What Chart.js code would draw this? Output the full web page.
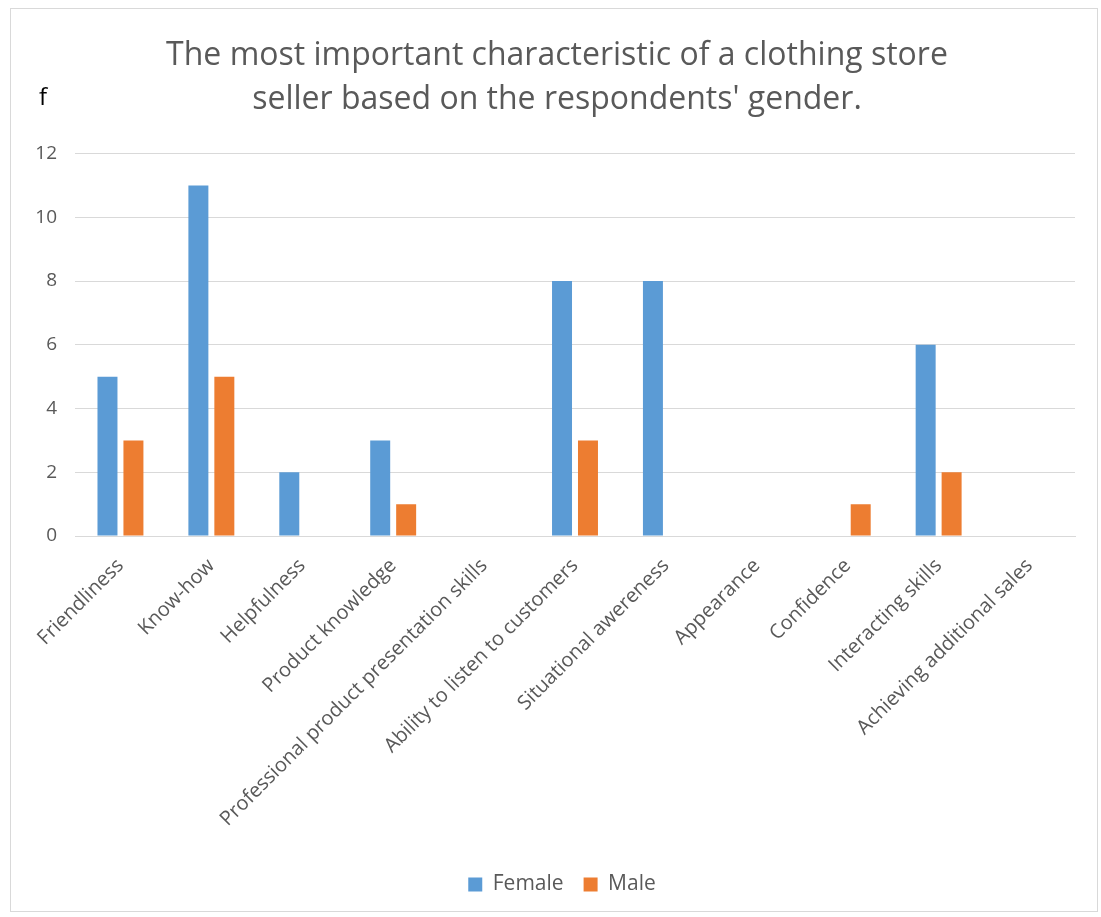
<!DOCTYPE html>
<html>
<head>
<meta charset="utf-8">
<script src="https://cdn.jsdelivr.net/npm/chart.js@4.4.1/dist/chart.umd.min.js"></script>
<style>
  html, body { margin: 0; padding: 0; background: #ffffff; }
  #box { position: absolute; left: 10px; top: 8px; width: 1088px; height: 904px; border: 1px solid #d9d9d9; box-sizing: border-box; }
  #c { display: block; }
</style>
</head>
<body>
<div id="box"><canvas id="c" width="1086" height="902"></canvas></div>
<script>
const categories = [
  "Friendliness", "Know-how", "Helpfulness", "Product knowledge",
  "Professional product presentation skills", "Ability to listen to customers",
  "Situational awereness", "Appearance", "Confidence", "Interacting skills",
  "Achieving additional sales"
];
const femaleValues = [5, 11, 2, 3, 0, 8, 8, 0, 0, 6, 0];
const maleValues   = [3, 5, 0, 1, 0, 3, 0, 0, 1, 2, 0];
const yTicks = [0, 2, 4, 6, 8, 10, 12];
const titleLines = ["The most important characteristic of a clothing store", "seller based on the respondents' gender."];
const yAxisLabel = "f";

const FONT = "'Open Sans', 'DejaVu Sans', sans-serif";
const GREY = "#595959";

const yLabelPlugin = {
  id: 'yLabel',
  afterLayout(chart) {
    const t = chart.titleBlock;
    if (t) { t.left += 14; t.right += 14; }
    const l = chart.legend;
    if (l) { l.left += 19; l.right += 19; }
  },
  afterDraw(chart) {
    const ctx = chart.ctx;
    ctx.save();
    ctx.fillStyle = "#000000";
    ctx.font = "24px " + FONT;
    ctx.textAlign = "center";
    ctx.textBaseline = "middle";
    ctx.fillText(yAxisLabel, 32, 89);
    ctx.restore();
  }
};

new Chart(document.getElementById('c'), {
  type: 'bar',
  data: {
    labels: categories,
    datasets: [
      { label: "Female", data: femaleValues, backgroundColor: "#5B9BD5", borderWidth: 0 },
      { label: "Male", data: maleValues, backgroundColor: "#ED7D31", borderWidth: 0 }
    ]
  },
  options: {
    responsive: false,
    animation: false,
    devicePixelRatio: 1,
    categoryPercentage: 0.571,
    barPercentage: 0.77,
    layout: { padding: { left: 0, right: 22, top: 0, bottom: 6 } },
    plugins: {
      title: {
        display: true,
        text: titleLines,
        color: GREY,
        font: { family: FONT, size: 32, weight: 'normal', lineHeight: 1.4 },
        padding: { top: 24, bottom: 31 }
      },
      legend: {
        position: 'bottom',
        labels: {
          color: GREY,
          font: { family: FONT, size: 21 },
          boxWidth: 14, boxHeight: 14,
          padding: 20
        }
      },
      tooltip: { enabled: false }
    },
    scales: {
      x: {
        grid: { display: false, drawTicks: false },
        border: { display: true, color: "#d9d9d9", width: 1 },
        ticks: {
          color: GREY,
          font: { family: FONT, size: 20 },
          minRotation: 45, maxRotation: 45,
          autoSkip: false,
          padding: 18
        },
        afterFit(scale) { scale.height = 318; }
      },
      y: {
        min: 0, max: 12,
        afterBuildTicks(scale) { scale.ticks = yTicks.map(v => ({ value: v })); },
        grid: { color: "#d9d9d9", drawTicks: false },
        border: { display: false },
        ticks: {
          color: GREY,
          font: { family: FONT, size: 19 },
          padding: 18
        },
        afterFit(scale) { scale.width = 64; }
      }
    }
  },
  plugins: [yLabelPlugin]
});
</script>
</body>
</html>
